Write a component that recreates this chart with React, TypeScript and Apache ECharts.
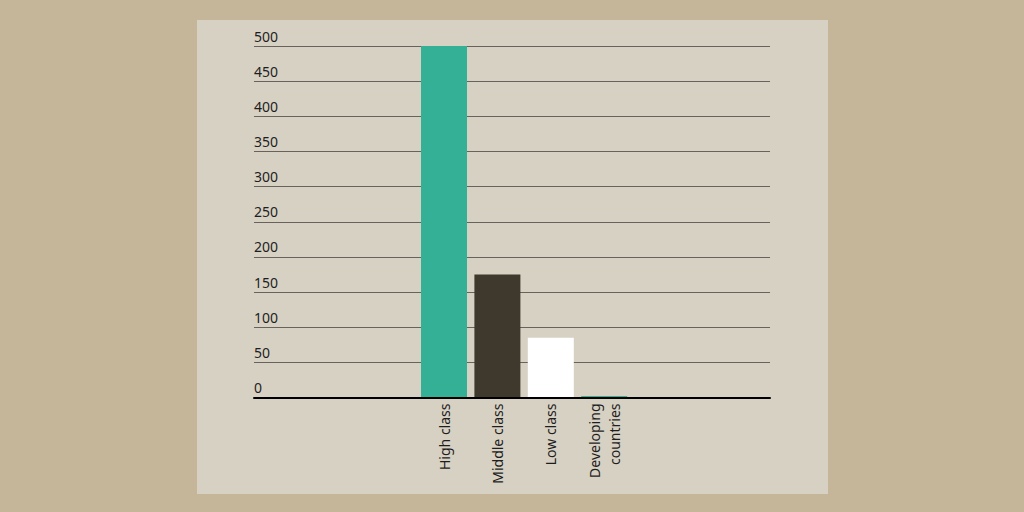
import React, { useEffect, useRef } from 'react';
import * as echarts from 'echarts';

const categories = ['High class', 'Middle class', 'Low class', 'Developing\ncountries'];
const values = [500, 175, 85, 2];
const barColors = ['#33b096', '#3f382d', '#ffffff', '#33b096'];
const yMin = 0;
const yMax = 500;
const yStep = 50;

const App = () => {
  const chartRef = useRef<HTMLDivElement>(null);

  useEffect(() => {
    if (!chartRef.current) return;
    const chart = echarts.init(chartRef.current, null, { renderer: 'svg' });

    const font = { fontFamily: 'Noto Sans', fontSize: 14, color: '#1e1e1e' };

    chart.setOption({
      animation: false,
      backgroundColor: '#c6b699',
      graphic: [
        {
          type: 'rect',
          z: -10,
          shape: { x: 197, y: 20, width: 631, height: 474 },
          style: { fill: '#d7d1c3' },
        },
      ],
      grid: [
        { left: 254, right: 254, top: 46, bottom: 114.5 },
        { left: 417.3, width: 213.6, top: 46, bottom: 114.5 },
      ],
      xAxis: [
        {
          type: 'category',
          gridIndex: 0,
          data: [''],
          axisLine: { lineStyle: { color: '#000000', width: 2 } },
          axisTick: { show: false },
          axisLabel: { show: false },
          z: 5,
        },
        {
          type: 'category',
          gridIndex: 1,
          data: categories,
          axisLine: { show: false },
          axisTick: { show: false },
          axisLabel: { ...font, rotate: 90, margin: 6, lineHeight: 20, interval: 0 },
        },
      ],
      yAxis: [
        {
          type: 'value',
          gridIndex: 0,
          min: yMin,
          max: yMax,
          interval: yStep,
          axisLine: { show: false },
          axisTick: { show: false },
          splitLine: { lineStyle: { color: '#67625b', width: 1 } },
          axisLabel: {
            ...font,
            inside: true,
            margin: 0,
            verticalAlign: 'bottom',
            padding: [0, 0, 3, 0],
          },
        },
        {
          type: 'value',
          gridIndex: 1,
          min: yMin,
          max: yMax,
          show: false,
        },
      ],
      series: [
        {
          type: 'bar',
          xAxisIndex: 1,
          yAxisIndex: 1,
          barWidth: 46,
          data: values.map((v, i) => ({ value: v, itemStyle: { color: barColors[i] } })),
        },
      ],
    });

    return () => {
      chart.dispose();
    };
  }, []);

  return (
    <div
      ref={chartRef}
      style={{ position: 'fixed', left: 0, top: 0, width: 1024, height: 512 }}
    />
  );
};

export default App;
